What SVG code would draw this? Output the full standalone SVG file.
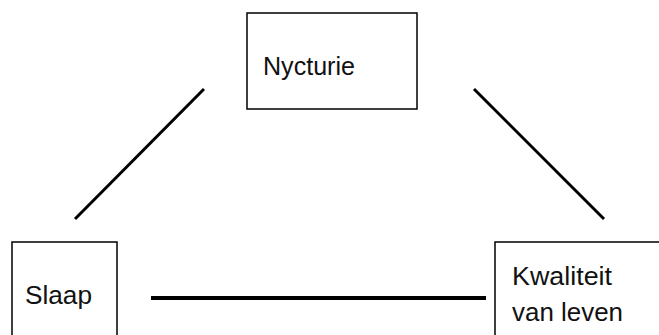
<svg xmlns="http://www.w3.org/2000/svg" width="659" height="335" viewBox="0 0 659 335">
<style>
.box{fill:#fff;stroke:#000;stroke-width:1.5}
.t{font-family:"Liberation Sans",Arial,sans-serif;font-size:26px;fill:#111}
.c{stroke:#000;stroke-linecap:butt;fill:none}
</style>
<rect width="659" height="335" fill="#fff"/>
<g id="connectors">
<line class="c" x1="204" y1="89" x2="75" y2="219" stroke-width="3"/>
<line class="c" x1="474" y1="89" x2="604" y2="219" stroke-width="3"/>
<line class="c" x1="151" y1="298" x2="486" y2="298" stroke-width="4"/>
</g>
<g id="nycturie">
<rect class="box" x="247" y="13" width="170" height="96"/>
<text class="t" x="263" y="75" textLength="92" lengthAdjust="spacingAndGlyphs">Nycturie</text>
</g>
<g id="slaap">
<rect class="box" x="12" y="242" width="105" height="100"/>
<text class="t" x="25" y="304" textLength="67" lengthAdjust="spacingAndGlyphs">Slaap</text>
</g>
<g id="kwaliteit">
<rect class="box" x="495" y="242" width="170" height="100"/>
<text class="t" x="512" y="285" textLength="100" lengthAdjust="spacingAndGlyphs">Kwaliteit</text>
<text class="t" x="512" y="321" textLength="111" lengthAdjust="spacingAndGlyphs">van leven</text>
</g>
</svg>
